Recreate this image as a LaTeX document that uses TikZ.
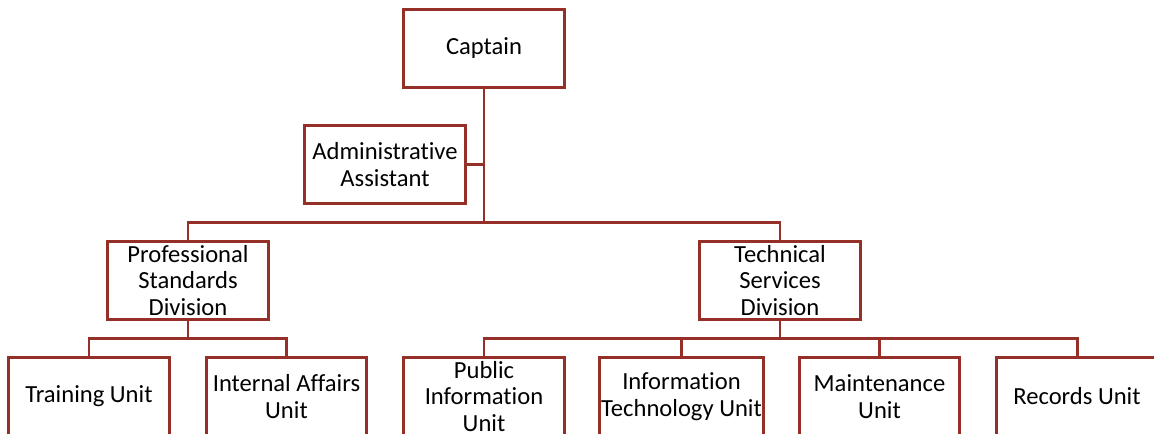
\documentclass[tikz,border=0pt]{standalone}
\usepackage{fontspec}
\setmainfont{Carlito}[Ligatures=NoCommon]
\definecolor{boxred}{RGB}{148,48,40}
\begin{document}
\begin{tikzpicture}[x=0.02cm,y=-0.02cm,
  orgbox/.style={draw=boxred, line width=1.7pt, fill=white, minimum width=3.22cm, minimum height=1.56cm, inner sep=1pt, align=center, font=\fontsize{14}{15.3}\selectfont},
  orgline/.style={draw=boxred, line width=1.7pt}]
\useasboundingbox (0,0) rectangle (1154,437);
\clip (0,0) rectangle (1154,433.5);

\node[orgbox] (captain) at (484,48.5) {Captain};
\node[orgbox] (admin) at (385,164.5) {Administrative\\Assistant};
\node[orgbox] (profdiv) at (188,280.5) {Professional\\Standards\\Division};
\node[orgbox] (techdiv) at (780,280.5) {Technical\\Services\\Division};

\node[orgbox] (training) at (89,396.5) {Training Unit};
\node[orgbox] (internal) at (286.5,396.5) {Internal Affairs\\Unit};
\node[orgbox] (pubinfo) at (484,396.5) {Public\\Information\\Unit};
\node[orgbox] (infotech) at (681.5,396.5) {Information\\Technology Unit};
\node[orgbox] (maint) at (879.5,396.5) {Maintenance\\Unit};
\node[orgbox] (records) at (1077,396.5) {Records Unit};

\coordinate (topbar) at (484,222);
\coordinate (profbar) at (188,338);
\coordinate (techbar) at (780,338);

\path[orgline] (captain) -- (topbar);
\path[orgline] (admin.east) -- (admin.east -| captain);
\path[orgline] (profdiv.north) |- (topbar) -| (techdiv.north);
\path[orgline] (profdiv) -- (profbar);
\path[orgline] (training.north) |- (profbar) -| (internal.north);
\path[orgline] (techdiv) -- (techbar);
\path[orgline] (pubinfo.north) |- (techbar) -| (records.north);
\path[orgline] (infotech.north) -- (infotech.north |- techbar);
\path[orgline] (maint.north) -- (maint.north |- techbar);
\end{tikzpicture}
\end{document}
